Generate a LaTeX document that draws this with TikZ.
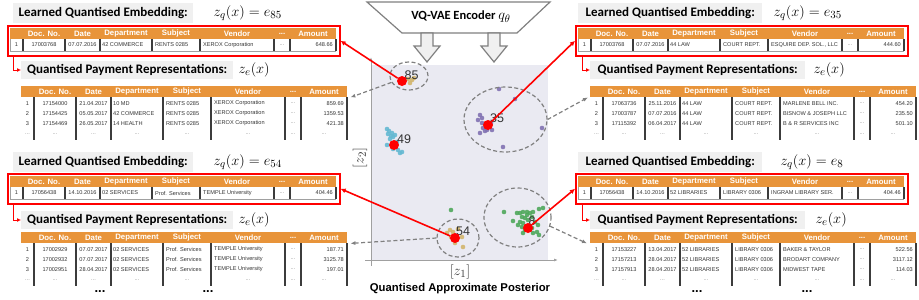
\documentclass[tikz,border=0pt]{standalone}
\usepackage[no-math]{fontspec}
\setmainfont{Liberation Sans}
\newfontfamily\capfont{Carlito}
\usepackage{tikz}
\usetikzlibrary{positioning,arrows.meta,calc,shapes.geometric}
\definecolor{hdrorange}{HTML}{E8943A}
\definecolor{capgray}{HTML}{F0F0F0}
\definecolor{plotbg}{HTML}{EAEAF2}
\definecolor{linkgray}{HTML}{808080}
\definecolor{rulegray}{HTML}{3C3C3C}
\definecolor{cellink}{HTML}{333333}
\definecolor{axisgray}{HTML}{A0A0A0}
\definecolor{ptgold}{HTML}{D2B56C}
\definecolor{ptcyan}{HTML}{64B9D2}
\definecolor{ptpurple}{HTML}{8172B2}
\definecolor{ptgreen}{HTML}{4FA85C}

% header strip of a payment table, #1 = name
\newcommand{\payhead}[1]{%
  \node[hdrbar] (#1) at (0,0) {};
  \node[hdrtext] (#1-doc)  at (34,5.5)   {Doc. No.};
  \node[hdrtext] (#1-date) at (72.5,5.5) {Date};
  \node[hdrtext] (#1-dept) at (116,5.5)  {Department};
  \node[hdrtext] (#1-subj) at (166,5.5)  {Subject};
  \node[hdrtext] (#1-vend) at (227,5.5)  {Vendor};
  \node[hdrtext] (#1-dots) at (272,5.5)  {...};
  \node[hdrtext] (#1-amt)  at (303,5.5)  {Amount};
}
% one body row: #1 name, #2 row centre, #3..#9 cells
\newcommand{\payrow}[9]{%
  \node[tabcell] (#1-idx)  at (6.5,#2)  {#3};
  \node[tabcell] (#1-doc)  at (34,#2)   {#4};
  \node[tabcell] (#1-date) at (72.5,#2) {#5};
  \node[tabcell, anchor=west] (#1-dept) at (92,#2)  {#6};
  \node[tabcell, anchor=west] (#1-subj) at (145,#2) {#7};
  \node[tabcell, anchor=west] (#1-vend) at (193,#2) {#8};
  \node[tabcell, text=linkgray] (#1-dots) at (272,#2) {...};
  \node[tabcell, anchor=east] (#1-amt) at (323,#2) {#9};
}
% closing row of dots: #1 name, #2 row centre
\newcommand{\paydots}[2]{%
  \foreach \cx/\cn in {6.5/idx,34/doc,72.5/date,116/dept,166/subj,227/vend,272/dots,303/amt}
    \node[tabcell, text=linkgray] (#1-\cn) at (\cx,#2) {...};
}
% column rules: #1 top, #2 bottom
\newcommand{\payrules}[2]{%
  \foreach \cx in {13,55,90,142,190,264,280,326}
    \draw[colrule] (\cx,#1) -- (\cx,#2);
}

\begin{document}
\begin{tikzpicture}[
  x=1pt, y=-1pt,
  >=Latex,
  caption/.style={fill=capgray, font=\capfont\bfseries\fontsize{13}{15}\selectfont,
    minimum height=20, inner xsep=4pt, inner ysep=0pt, anchor=west},
  formula/.style={font=\fontsize{15}{18}\selectfont, inner sep=0pt, anchor=west},
  redbox/.style={draw=red, line width=1.6pt, minimum width=332, minimum height=30,
    anchor=north west, inner sep=0pt},
  hdrbar/.style={fill=hdrorange, minimum width=326, minimum height=11, anchor=north west, inner sep=0pt},
  hdrtext/.style={font=\bfseries\fontsize{7.8}{9}\selectfont, text=white, inner sep=0pt},
  tabcell/.style={font=\fontsize{5.6}{6.5}\selectfont, text=cellink, inner sep=0pt},
  colrule/.style={draw=rulegray, line width=1.1pt},
  edgerule/.style={draw=axisgray, line width=0.5pt},
  elbow/.style={draw=red, line width=1pt, -{Latex[length=4pt,width=4pt]}},
  pick/.style={draw=red, line width=1.6pt, -{Latex[length=5pt,width=5pt]}},
  link/.style={draw=linkgray, line width=1.2pt, dash pattern=on 4pt off 2.5pt, -{Latex[length=5pt,width=4pt]}},
  cluster/.style={ellipse, draw=linkgray, line width=1.2pt, dash pattern=on 4pt off 2.5pt, inner sep=0pt},
  centroid/.style={circle, fill=red, inner sep=0pt, minimum size=10},
  clabel/.style={font=\fontsize{12.5}{14}\selectfont, text=cellink, inner sep=0pt},
  hollow/.style={draw=linkgray, fill=capgray, line width=1.2pt},
  encoder/.style={draw=linkgray, fill=white, line width=1.2pt},
  axis/.style={draw=axisgray, line width=0.8pt, -{Latex[length=4pt,width=3pt]}},
  axlabel/.style={font=\fontsize{15}{18}\selectfont, text=cellink, inner sep=0pt},
  moredots/.style={font=\bfseries\fontsize{13}{15}\selectfont, inner sep=0pt},
]
\useasboundingbox (0,0) rectangle (919,300);

% ---------------- top left: e_85
\node[caption, minimum width=180] (tl-learn) at (13,13) {Learned Quantised Embedding:};
\node[formula, right=20pt of tl-learn] (tl-zq) {$z_q(x) = e_{85}$};
\node[redbox] (tl-box) at (7,25) {};
\begin{scope}[shift={(10,28)}]
  \payhead{tl-eh}
  \payrow{tl-e1}{17}{1}{17003768}{07.07.2016}{42 COMMERCE}{RENTS 0285}{XEROX Corporation}{648.66}
  \payrules{11}{23}
  \draw[edgerule] (0,11) -- (0,23) -- (326,23);
\end{scope}
\node[caption, minimum width=212, minimum height=18] (tl-qpr) at (21,70) {Quantised Payment Representations:};
\node[formula, right=5pt of tl-qpr] (tl-ze) {$z_e(x)$};
\draw[elbow] ($(tl-box.south west)+(6,0)$) |- (tl-qpr.west);
\begin{scope}[shift={(21,86)}]
  \payhead{tl-hdr}
  \payrow{tl-r1}{17.5}{1}{17154000}{21.04.2017}{10 MD}{RENTS 0285}{XEROX Corporation}{859.69}
  \payrow{tl-r2}{27.5}{2}{17154425}{05.05.2017}{42 COMMERCE}{RENTS 0285}{XEROX Corporation}{1359.53}
  \payrow{tl-r3}{37.5}{3}{17154469}{26.05.2017}{14 HEALTH}{RENTS 0285}{XEROX Corporation}{421.38}
  \paydots{tl-r4}{48.5}
  \payrules{11}{54}
\end{scope}

% ---------------- top right: e_35
\node[caption, minimum width=184] (tr-learn) at (578,13) {Learned Quantised Embedding:};
\node[formula, right=11pt of tr-learn] (tr-zq) {$z_q(x) = e_{35}$};
\node[redbox] (tr-box) at (575,25) {};
\begin{scope}[shift={(578,28)}]
  \payhead{tr-eh}
  \payrow{tr-e1}{17}{1}{17003768}{07.07.2016}{44 LAW}{COURT REPT.}{ESQUIRE DEP. SOL., LLC}{444.60}
  \payrules{11}{23}
  \draw[edgerule] (0,11) -- (0,23) -- (326,23);
\end{scope}
\node[caption, minimum width=215, minimum height=18] (tr-qpr) at (590,70) {Quantised Payment Representations:};
\node[formula, right=8pt of tr-qpr] (tr-ze) {$z_e(x)$};
\draw[elbow] ($(tr-box.south west)+(7,0)$) |- (tr-qpr.west);
\begin{scope}[shift={(590,86)}]
  \payhead{tr-hdr}
  \payrow{tr-r1}{17.5}{1}{17063736}{25.11.2016}{44 LAW}{COURT REPT.}{MARLENE BELL INC.}{454.20}
  \payrow{tr-r2}{27.5}{2}{17003787}{07.07.2016}{44 LAW}{COURT REPT.}{BISNOW \& JOSEPH LLC}{235.50}
  \payrow{tr-r3}{37.5}{3}{17115392}{06.04.2017}{44 LAW}{COURT REPT.}{B \& R SERVICES INC}{501.10}
  \paydots{tr-r4}{48.5}
  \payrules{11}{54}
\end{scope}

% ---------------- bottom left: e_54
\node[caption, minimum width=180] (bl-learn) at (13,162) {Learned Quantised Embedding:};
\node[formula, right=20pt of bl-learn] (bl-zq) {$z_q(x) = e_{54}$};
\node[redbox] (bl-box) at (7,173) {};
\begin{scope}[shift={(10,176)}]
  \payhead{bl-eh}
  \payrow{bl-e1}{17}{1}{17056438}{14.10.2016}{02 SERVICES}{Prof. Services}{TEMPLE University}{404.46}
  \payrules{11}{23}
  \draw[edgerule] (0,11) -- (0,23) -- (326,23);
\end{scope}
\node[caption, minimum width=212, minimum height=18] (bl-qpr) at (21,220) {Quantised Payment Representations:};
\node[formula, right=5pt of bl-qpr] (bl-ze) {$z_e(x)$};
\draw[elbow] ($(bl-box.south west)+(6,0)$) |- (bl-qpr.west);
\begin{scope}[shift={(21,232)}]
  \payhead{bl-hdr}
  \payrow{bl-r1}{17.5}{1}{17002929}{07.07.2017}{02 SERVICES}{Prof. Services}{TEMPLE University}{187.71}
  \payrow{bl-r2}{27.5}{2}{17002932}{07.07.2017}{02 SERVICES}{Prof. Services}{TEMPLE University}{3125.78}
  \payrow{bl-r3}{37.5}{3}{17002951}{28.04.2017}{02 SERVICES}{Prof. Services}{TEMPLE University}{197.01}
  \paydots{bl-r4}{48.5}
  \payrules{11}{54}
\end{scope}
\node[moredots] (bl-more1) at (100,292) {...};
\node[moredots] (bl-more2) at (208,292) {...};

% ---------------- bottom right: e_8
\node[caption, minimum width=184] (br-learn) at (578,162) {Learned Quantised Embedding:};
\node[formula, right=18pt of br-learn] (br-zq) {$z_q(x) = e_{8}$};
\node[redbox] (br-box) at (575,173) {};
\begin{scope}[shift={(578,176)}]
  \payhead{br-eh}
  \payrow{br-e1}{17}{1}{17056438}{14.10.2016}{52 LIBRARIES}{LIBRARY 0306}{INGRAM LIBRARY SER.}{404.46}
  \payrules{11}{23}
  \draw[edgerule] (0,11) -- (0,23) -- (326,23);
\end{scope}
\node[caption, minimum width=215, minimum height=18] (br-qpr) at (590,220) {Quantised Payment Representations:};
\node[formula, right=10pt of br-qpr] (br-ze) {$z_e(x)$};
\draw[elbow] ($(br-box.south west)+(7,0)$) |- (br-qpr.west);
\begin{scope}[shift={(590,232)}]
  \payhead{br-hdr}
  \payrow{br-r1}{17.5}{1}{17153227}{13.04.2017}{52 LIBRARIES}{LIBRARY 0306}{BAKER \& TAYLOR}{522.56}
  \payrow{br-r2}{27.5}{2}{17157213}{28.04.2017}{52 LIBRARIES}{LIBRARY 0306}{BRODART COMPANY}{3117.12}
  \payrow{br-r3}{37.5}{3}{17157913}{28.04.2017}{52 LIBRARIES}{LIBRARY 0306}{MIDWEST TAPE}{114.03}
  \paydots{br-r4}{48.5}
  \payrules{11}{54}
\end{scope}
\node[moredots] (br-more1) at (697,292) {...};
\node[moredots] (br-more2) at (807,292) {...};

% ---------------- encoder and posterior
\draw[encoder] (367,2) -- (550,2) -- (517,33) -- (402,33) -- cycle;
\node[inner sep=0pt] (enc) at (461,17) {\capfont\bfseries\fontsize{12.5}{15}\selectfont VQ-VAE Encoder \fontsize{15}{18}\selectfont$q_\theta$};
\foreach \ax in {427,494}
  \draw[hollow] (\ax-6,33) -- (\ax+6,33) -- (\ax+6,46) -- (\ax+13,46) -- (\ax,62)
    -- (\ax-13,46) -- (\ax-6,46) -- cycle;

\node[fill=plotbg, minimum width=177, minimum height=195, anchor=north west, inner sep=0pt] (plot) at (371,65) {};
\draw[axis] (371,266) -- (371,57);
\draw[axis] (365,260) -- (558,260);
\node[axlabel] (z1) at (460,272) {$[z_1]$};
\node[axlabel, rotate=90] (z2) at (360,158) {$[z_2]$};
\node[font=\bfseries\fontsize{11.3}{13}\selectfont, inner sep=0pt] (post) at (460,289) {Quantised Approximate Posterior};

% scatter of the encoded payments
\foreach \px/\py in {408/79,412/80,414/78,410/83,450/230,453/232,447/233,458/229,457/239,462/237,463/247,451/237,455/243}
  \fill[ptgold, opacity=0.9] (\px,\py) circle (2.3pt);
\foreach \px/\py in {387/129,389/131,392/133,388/134,391/136,393/137,387/145,397/142,398/150,402/152,400/153,393/149,395/135,390/139}
  \fill[ptcyan, opacity=0.9] (\px,\py) circle (2.3pt);
\foreach \px/\py in {499/89,515/99,480/115,482/123,483/128,492/130,480/133,487/130,542/128,503/147,478/120,485/131,491/123,482/118}
  \fill[ptpurple, opacity=0.9] (\px,\py) circle (2.3pt);
\foreach \px/\py in {451/210,504/212,513/221,517/213,520/213,523/212,527/212,530/213,533/212,539/209,543/208,522/217,525/218,528/220,532/217,520/222,523/223,518/225,535/222,538/225,539/235,533/233,523/233,532/228,537/232,525/230,527/215,522/227}
  \fill[ptgreen, opacity=0.9] (\px,\py) circle (2.3pt);

% clusters, labels and codebook vectors
\node[cluster, minimum width=38, minimum height=28] (c85) at (409,76) {};
\node[cluster, minimum width=83, minimum height=65] (c35) at (505.5,119.5) {};
\node[cluster, minimum width=42, minimum height=38] (c54) at (458,238) {};
\node[cluster, minimum width=67, minimum height=59] (c8) at (517.5,217.5) {};
\node[clabel] (l85) at (411.5,75.5) {85};
\node[clabel] (l35) at (497,118) {35};
\node[clabel] (l49) at (404,139) {49};
\node[clabel] (l54) at (463,231) {54};
\node[clabel] (l8) at (532,221) {8};
\node[centroid] (e85) at (402,81) {};
\node[centroid] (e35) at (488,125) {};
\node[centroid] (e49) at (394,145) {};
\node[centroid] (e54) at (455,238) {};
\node[centroid] (e8) at (528,228) {};

% ---------------- codebook vector to learned embedding
\draw[pick] (e85) -- (tl-box.east);
\draw[pick] (e35) -- (tr-box.west);
\draw[pick] (e54) -- (bl-box.east);
\draw[pick] (e8) -- (br-box.west);

% ---------------- cluster to its payments
\draw[link] (c85) -- ($(tl-hdr.south east)+(3,0)$);
\draw[link] (c35.east) -- ($(tr-hdr.south west)+(-2,0)$);
\draw[link] (c54.west) -- ($(bl-hdr.south east)+(3,0)$);
\draw[link] (c8.-15) -- ($(br-hdr.south west)+(-3,0)$);

\end{tikzpicture}
\end{document}
